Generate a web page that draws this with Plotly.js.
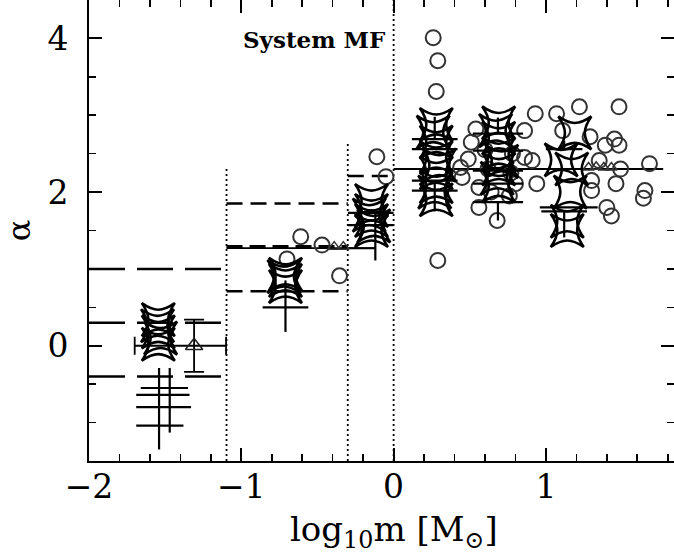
<!DOCTYPE html>
<html><head><meta charset="utf-8">
<script src="https://cdn.plot.ly/plotly-3.0.1.min.js"></script>
<style>html,body{margin:0;padding:0;background:#fff;overflow:hidden}#chart{width:674px;height:555px}</style>
</head><body><div id="chart"></div>
<script>
// ---- IMF reference lines (log10 m limits, alpha) ----
const solidX0 = [-1.097, 0.0];
const solidX1 = [-0.301, 1.77];
const solidY  = [1.27, 2.30];

const longDashX0 = [-2.0, -2.0, -2.0];
const longDashX1 = [-1.097, -1.097, -1.097];
const longDashY  = [1.0, 0.3, -0.4];

const dashX0 = [-1.097, -1.097, -0.301];
const dashX1 = [-0.301, -0.301, 0.0];
const dashY  = [1.85, 0.71, 2.21];

const thickDashX0 = [-1.097];
const thickDashX1 = [-0.301];
const thickDashY  = [1.29];

const dottedX   = [-1.097, -0.301, 0.0];
const dottedTop = [2.33, 2.63, 4.5];
const dottedBottom = -1.5;

// ---- data: open circles ----
const circX = [-0.11, -0.05, -0.61, -0.47, -0.70, -0.355,
  0.26, 0.29, 0.28, 0.29,
  0.54, 0.51, 0.49, 0.44, 0.45, 0.56, 0.56, 0.86, 0.86, 0.80, 0.68,
  0.60, 0.62, 0.78, 0.77, 0.64, 0.76,
  0.93, 1.07, 1.22, 1.48, 1.11, 1.29, 1.39, 1.45, 1.48, 0.91, 1.35, 1.49, 1.68,
  0.94, 1.46, 1.30, 1.65, 1.64, 1.40, 1.43, 1.30];
const circY = [2.46, 2.20, 1.42, 1.31, 1.13, 0.91,
  4.01, 3.71, 3.31, 1.11,
  2.82, 2.65, 2.43, 2.32, 2.19, 2.06, 1.80, 2.80, 2.45, 2.11, 1.63,
  2.55, 2.30, 2.50, 2.25, 2.00, 1.95,
  3.02, 3.02, 3.11, 3.11, 2.80, 2.72, 2.61, 2.69, 2.61, 2.41, 2.41, 2.30, 2.37,
  2.11, 2.11, 2.02, 2.02, 1.92, 1.80, 1.69, 2.15];

// ---- data: star symbols ----
const starX = [-1.545, -1.545, -1.545, -1.55, -1.53,
  -0.71, -0.71, -0.71, -0.72,
  -0.145, -0.145, -0.145, -0.145, -0.16, -0.13,
  0.28, 0.28, 0.28, 0.28, 0.28, 0.28, 0.26, 0.30, 0.27,
  0.69, 0.69, 0.69, 0.69, 0.69, 0.67, 0.71, 0.68,
  1.19, 1.10, 1.17, 1.16, 1.14, 1.14];
const starY = [0.34, 0.18, 0.02, 0.26, 0.10,
  0.93, 0.85, 0.77, 0.90,
  1.89, 1.76, 1.63, 1.50, 1.70, 1.56,
  2.88, 2.65, 2.45, 2.25, 2.07, 1.90, 2.78, 2.35, 2.00,
  2.90, 2.70, 2.50, 2.30, 2.08, 2.80, 2.40, 2.18,
  2.77, 2.42, 2.30, 2.00, 1.62, 1.50];

// ---- data: triangles ----
const bigTriX = [-1.31];
const bigTriY = [0.0];
const bigTriXm = [0.39];
const bigTriXp = [0.21];
const bigTriErr = [0.34];
const triX = [-0.39, -0.33, 1.28, 1.33, 1.38, 1.43];
const triY = [1.29, 1.29, 2.32, 2.33, 2.32, 2.32];

// ---- data: error crosses (mass range x alpha error) ----
const crossX  = [-1.47, -1.54, -1.54, -1.47, -0.71, -0.15, -0.15, -0.12,
  0.27, 0.27, 0.27, 0.27, 0.685, 0.685, 0.685, 0.685, 0.685, 1.12, 1.15, 1.12];
const crossY  = [-0.55, -0.80, -1.04, -0.64, 0.50, 1.73, 1.57, 1.27,
  2.69, 2.56, 2.15, 2.02, 2.76, 2.54, 2.28, 2.11, 1.87, 2.56, 1.80, 1.75];
const crossXm = [0.19, 0.15, 0.15, 0.22, 0.15, 0.15, 0.15, 0.18,
  0.15, 0.15, 0.15, 0.15, 0.165, 0.165, 0.165, 0.165, 0.165, 0.12, 0.19, 0.15];
const crossXp = [0.12, 0.21, 0.16, 0.13, 0.15, 0.15, 0.15, 0.0,
  0.15, 0.15, 0.15, 0.15, 0.165, 0.165, 0.165, 0.165, 0.165, 0.12, 0.19, 0.15];
const crossYm = [0.58, 0.55, 0.0, 0.0, 0.32, 0.0, 0.0, 0.16,
  0.0, 0.0, 0.40, 0.0, 0.0, 0.0, 0.0, 0.0, 0.24, 0.0, 0.0, 0.34];
const crossYp = [0.26, 0.51, 0.0, 0.0, 0.35, 0.0, 0.0, 0.50,
  0.29, 0.0, 0.0, 0.0, 0.21, 0.0, 0.0, 0.0, 0.0, 0.11, 0.0, 0.0];

const xTickVals = [-2, -1, 0, 1];
const yTickVals = [0, 2, 4];

function segs(x0, x1, y) {
  const xs = [], ys = [];
  for (let i = 0; i < y.length; i++) { xs.push(x0[i], x1[i], null); ys.push(y[i], y[i], null); }
  return {x: xs, y: ys};
}
function vsegs(x, top, bottom) {
  const xs = [], ys = [];
  for (let i = 0; i < x.length; i++) { xs.push(x[i], x[i], null); ys.push(bottom, top[i], null); }
  return {x: xs, y: ys};
}
function lineTrace(s, width, dash) {
  return {type: 'scatter', mode: 'lines', x: s.x, y: s.y, hoverinfo: 'skip',
    line: {color: 'black', width: width, dash: dash}, showlegend: false};
}

// four-pointed concave star symbol, in pixels around its data anchor
const STAR_HALF = 16.5;
function starPath(h) {
  const a = (0.24 * h).toFixed(2), b = (0.47 * h).toFixed(2), H = h.toFixed(2);
  return `M -${H},-${H} C -${a},-${b} ${a},-${b} ${H},-${H} ` +
         `C ${b},-${a} ${b},${a} ${H},${H} ` +
         `C ${a},${b} -${a},${b} -${H},${H} ` +
         `C -${b},${a} -${b},-${a} -${H},-${H} Z`;
}
const starShapes = starX.map((sx, i) => ({
  type: 'path', xref: 'x', yref: 'y', xsizemode: 'pixel', ysizemode: 'pixel',
  xanchor: sx, yanchor: starY[i], path: starPath(STAR_HALF),
  line: {color: 'black', width: 2.6}, fillcolor: 'rgba(0,0,0,0)', layer: 'above'
}));

const traces = [
  lineTrace(vsegs(dottedX, dottedTop, dottedBottom), 1.8, '2px,3px'),
  lineTrace(segs(longDashX0, longDashX1, longDashY), 2.5, '36px,12px'),
  lineTrace(segs(dashX0, dashX1, dashY), 2.5, '16px,8px'),
  lineTrace(segs(thickDashX0, thickDashX1, thickDashY), 3.2, '16px,7px'),
  lineTrace(segs(solidX0, solidX1, solidY), 1.9, 'solid'),
  {type: 'scatter', mode: 'markers', x: circX, y: circY, showlegend: false,
    marker: {symbol: 'circle-open', size: 15, color: '#333', line: {width: 2, color: '#333'}}},
  {type: 'scatter', mode: 'markers', x: crossX, y: crossY, showlegend: false,
    marker: {size: 1, color: 'rgba(0,0,0,0)'},
    error_x: {type: 'data', symmetric: false, array: crossXp, arrayminus: crossXm, width: 0, thickness: 2.2, color: 'black'},
    error_y: {type: 'data', symmetric: false, array: crossYp, arrayminus: crossYm, width: 0, thickness: 2.2, color: 'black'}},
  {type: 'scatter', mode: 'markers', x: bigTriX, y: bigTriY, showlegend: false,
    marker: {symbol: 'triangle-up-open', size: 15, color: '#222', line: {width: 1.6}},
    error_x: {type: 'data', symmetric: false, array: bigTriXp, arrayminus: bigTriXm, width: 9, thickness: 1.8, color: 'black'},
    error_y: {type: 'data', array: bigTriErr, width: 10, thickness: 1.8, color: 'black'}},
  {type: 'scatter', mode: 'markers', x: triX, y: triY, showlegend: false,
    marker: {symbol: 'triangle-up-open', size: 10, color: '#333', line: {width: 1.5}}}
];

const tickFont = {family: 'DejaVu Serif', size: 33, color: 'black'};
const layout = {
  width: 674, height: 555,
  margin: {l: 89, r: 0, t: 0, b: 94, pad: 0},
  paper_bgcolor: 'white', plot_bgcolor: 'white',
  showlegend: false,
  shapes: starShapes,
  xaxis: {range: [-2, 1.841], showline: true, linewidth: 2, linecolor: 'black', mirror: 'ticks',
    ticks: 'inside', ticklen: 13, tickwidth: 2, tickcolor: 'black',
    tickmode: 'array', tickvals: xTickVals,
    minor: {dtick: 0.2, tick0: 0, ticks: 'inside', ticklen: 7, tickwidth: 1.6, tickcolor: 'black', showgrid: false},
    showgrid: false, zeroline: false, tickfont: tickFont, ticklabelstandoff: -5, automargin: false},
  yaxis: {range: [-1.5, 4.5], showline: true, linewidth: 2, linecolor: 'black', mirror: 'ticks',
    ticks: 'inside', ticklen: 13, tickwidth: 2, tickcolor: 'black',
    tickmode: 'array', tickvals: yTickVals,
    minor: {dtick: 0.5, tick0: 0, ticks: 'inside', ticklen: 7, tickwidth: 1.6, tickcolor: 'black', showgrid: false},
    showgrid: false, zeroline: false, tickfont: tickFont, ticklabelstandoff: 12, automargin: false,
    title: {text: 'α', font: {family: 'DejaVu Serif', size: 32, color: 'black'}, standoff: 14}},
  annotations: [
    {text: 'System MF', x: -1.005, y: 3.99, xref: 'x', yref: 'y', xanchor: 'left', yanchor: 'middle',
      showarrow: false, font: {family: 'DejaVu Serif', size: 23, color: 'black', weight: 'bold'}},
    {text: 'log<sub>10</sub>m [M<sub>⊙</sub>]', x: 0, y: -0.152, xref: 'x', yref: 'paper',
      xanchor: 'center', yanchor: 'middle', showarrow: false,
      font: {family: 'DejaVu Serif', size: 34, color: 'black'}}
  ]
};
Plotly.newPlot('chart', traces, layout, {staticPlot: true, displayModeBar: false});
</script></body></html>
